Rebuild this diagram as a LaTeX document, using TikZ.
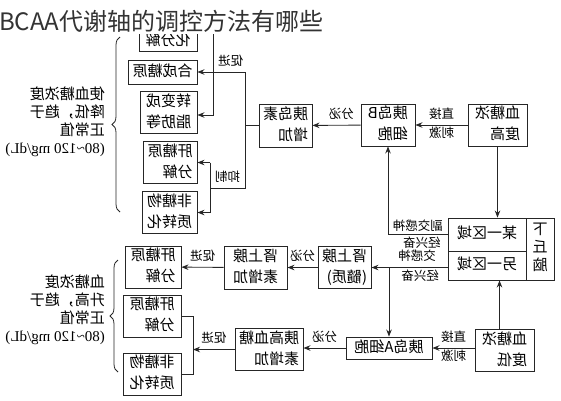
\documentclass[tikz,border=0pt]{standalone}
\usepackage{graphicx}
\usepackage{fontspec}
\setmainfont{Liberation Serif}
\newfontfamily\cjk{Noto Sans CJK SC}
\usetikzlibrary{decorations.pathreplacing,arrows.meta}
\newcommand\mt[1]{\reflectbox{\begin{tabular}{@{}l@{}}#1\end{tabular}}}
\tikzset{
  box/.style={draw=black!85,line width=0.9pt,inner sep=0pt,font=\cjk\fontsize{15}{21}\selectfont},
  lbl/.style={inner sep=2pt,font=\cjk\fontsize{12.5}{15}\selectfont},
  side/.style={inner sep=0pt,font=\cjk\fontsize{15}{18}\selectfont},
  ln/.style={draw=black!85,line width=0.9pt},
  arr/.style={ln,-{Stealth[length=7pt,width=5.5pt]}},
  brc/.style={draw=black!85,line width=0.8pt,decorate,decoration={brace,amplitude=8pt}}
}

\begin{document}
\begin{tikzpicture}[x=1pt,y=-1pt]
 % \draw[thin,gray!40] (0,0) grid[step=20] (561,400);
  \useasboundingbox (0,0) rectangle (561,400);
  % upper half
  \node[box,minimum width=59,minimum height=42] (hi) at (497.5,125) {\mt{血糖浓\\度高}};
  \node[box,minimum width=54,minimum height=42] (bcell) at (388,125) {\mt{胰岛B\\细胞}};
  \node[box,minimum width=53,minimum height=43] (insul) at (285.5,125.5) {\mt{胰岛素\\增加}};
  \node[box,minimum width=58,minimum height=42,anchor=south] (oxi) at (168,52) {\mt{\\化分解}};
  \node[box,minimum width=69,minimum height=24] (syn) at (162.5,72) {\mt{合成糖原}};
  \node[box,minimum width=57,minimum height=41] (fat) at (168.5,112.5) {\mt{转变成\\脂肪等}};
  \node[box,minimum width=54,minimum height=41] (gly1) at (170,162.5) {\mt{肝糖原\\分解}};
  \node[box,minimum width=55,minimum height=41] (non1) at (169.5,212.5) {\mt{非糖物\\质转化}};
  % hypothalamus
  \node[box,minimum width=78,minimum height=33] (reg1) at (487,234.5) {\mt{某一区域}};
  \node[box,minimum width=78,minimum height=29] (reg2) at (487,265.5) {\mt{另一区域}};
  \node[box,minimum width=28,minimum height=62,font=\cjk\fontsize{15}{18}\selectfont] (hyp) at (540,249) {\mt{下\\丘\\脑}};
  % lower half
  \node[box,minimum width=53,minimum height=41] (adm) at (344.5,267.5) {\mt{肾上腺\\(髓质)}};
  \node[box,minimum width=63,minimum height=43] (adr) at (255.5,267.5) {\mt{肾上腺\\素增加}};
  \node[box,minimum width=56,minimum height=42] (gly2) at (153,267) {\mt{肝糖原\\分解}};
  \node[box,minimum width=86,minimum height=22] (acell) at (389,348) {\mt{胰岛A细胞}};
  \node[box,minimum width=59,minimum height=41] (lo) at (504.5,350.5) {\mt{血糖浓\\度低}};
  \node[box,minimum width=68,minimum height=41] (glu) at (269,349.5) {\mt{胰高血糖\\素增加}};
  \node[box,minimum width=58,minimum height=42] (gly3) at (152,316) {\mt{肝糖原\\分解}};
  \node[box,minimum width=58,minimum height=40] (non3) at (152,374) {\mt{非糖物\\质转化}};
  % side texts
  \node[side,anchor=east] (txt1) at (105,122.5) {\mt{使血糖浓度\\降低，趋于\\正常值\\{\rmfamily(80\textasciitilde120 mg/dL)}}};
  \node[side,anchor=east] (txt2) at (105,311) {\mt{血糖浓度\\升高，趋于\\正常值\\{\rmfamily(80\textasciitilde120 mg/dL)}}};
  \draw[brc] (120,212) -- (120,37);
  \draw[brc] (118,372) -- (118,260);
  % connectors, upper
  \draw[arr] (hi) -- (bcell) node[lbl,midway,above]{\mt{直接}} node[lbl,midway,below]{\mt{刺激}};
  \draw[arr] (bcell) -- (insul) node[lbl,pos=0.4,above]{\mt{分泌}};
  \coordinate (pj) at (245,188);
  \coordinate (ij) at (210,188);
  \coordinate (up) at (213,34);
  \draw[ln] (insul.west) -- (insul.west -| pj);
  \draw[ln] (pj |- syn.east) -- (pj) -- (ij) node[lbl,midway,above]{\mt{抑制}};
  \draw[arr] (pj |- syn.east) -- (syn.east) node[lbl,pos=0.3,above]{\mt{促进}};
  \draw[arr] (up) |- ([yshift=-2.5]fat.east);
  \draw[ln] (ij |- gly1.east) -- (ij |- non1.east);
  \draw[arr] (ij |- gly1.east) -- (gly1.east);
  \draw[arr] (ij |- non1.east) -- (non1.east);
  \draw[arr] (hi.south) -- (hi.south |- reg1.north);
  \draw[arr] (reg1.west) -| (bcell.south) node[lbl,pos=0.25,above]{\mt{副交感神\\[-3pt]}} node[lbl,pos=0.25,below,xshift=4]{\mt{经兴奋}};
  % connectors, lower
  \draw[arr] (reg2.west |- adm.east) -- (adm.east) node[lbl,pos=0.4,above]{\mt{交感神}} node[lbl,pos=0.4,below,xshift=3]{\mt{经兴奋}};
  \draw[arr] (acell.north |- adm.east) -- (acell.north);
  \draw[arr] ([xshift=-5]lo.north) -- ([xshift=-5]lo.north |- reg2.south);
  \draw[arr] (lo.west |- acell.east) -- (acell.east) node[lbl,midway,above]{\mt{直接}} node[lbl,midway,below]{\mt{刺激}};
  \draw[arr] (adm) -- (adr) node[lbl,midway,above]{\mt{分泌}};
  \draw[arr] (adr) -- (gly2) node[lbl,midway,above]{\mt{促进}};
  \draw[arr] (acell.west) -- (acell.west -| glu.east) node[lbl,midway,above]{\mt{分泌}};
  \coordinate (gb) at (193,349.5);
  \draw[ln] (gly3.east) -- (gly3.east -| gb) -- (non3.east -| gb) -- (non3.east);
  \draw[arr] (glu.west) -- (gb) node[lbl,midway,above]{\mt{促进}};
  % title
  \node[anchor=north west,fill=white,inner sep=0pt,text height=30,text depth=4,text=black!80,font=\cjk\fontsize{24}{24}\selectfont] (title) at (-1,0) {BCAA代谢轴的调控方法有哪些};
\end{tikzpicture}
\end{document}
